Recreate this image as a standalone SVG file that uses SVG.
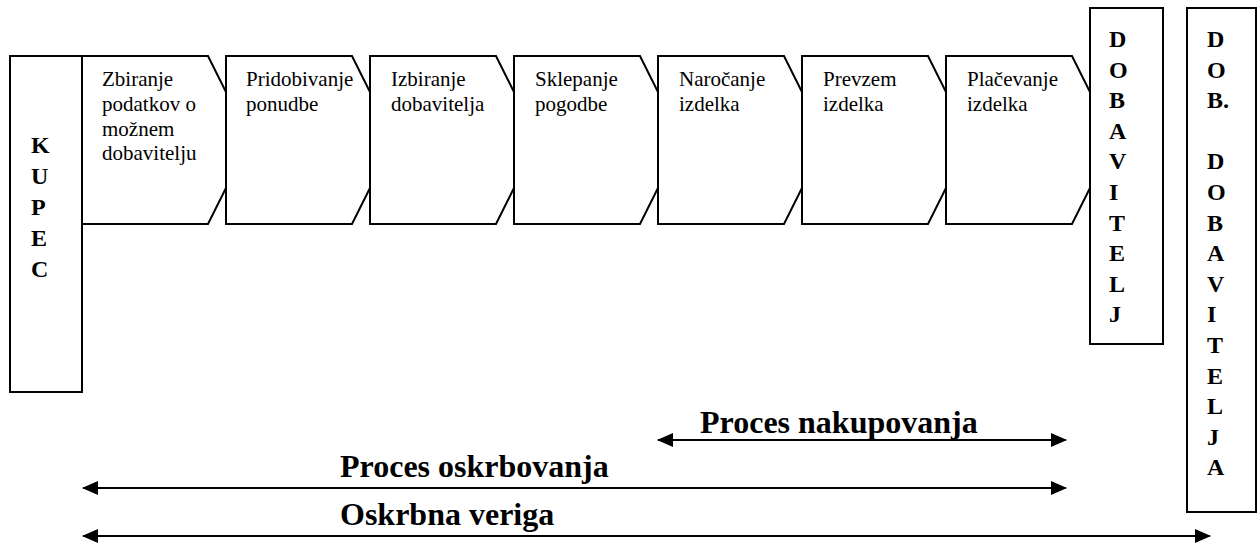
<svg xmlns="http://www.w3.org/2000/svg" width="1258" height="544" viewBox="0 0 1258 544">
  <style>
    .box { fill: #ffffff; stroke: #000000; stroke-width: 2; }
    .step { fill: #ffffff; stroke: #000000; stroke-width: 2; stroke-linejoin: miter; }
    .lbl { font-family: "Liberation Serif", "Times New Roman", serif; font-size: 21px; fill: #000000; }
    .vert { font-family: "Liberation Serif", "Times New Roman", serif; font-size: 24px; font-weight: bold; fill: #000000; }
    .span { font-family: "Liberation Serif", "Times New Roman", serif; font-size: 32px; font-weight: bold; fill: #000000; }
    .conn { stroke: #000000; stroke-width: 2; fill: none; }
  </style>
  <defs>
    <marker id="head" viewBox="0 0 16 14" refX="15" refY="7" markerWidth="16" markerHeight="14" markerUnits="userSpaceOnUse" orient="auto-start-reverse">
      <path d="M0,0 L16,7 L0,14 Z" fill="#000000"/>
    </marker>
  </defs>

  <rect width="1258" height="544" fill="#ffffff"/>

  <!-- process steps (later steps overlap the tip of the previous one) -->
  <g id="step-zbiranje">
    <path class="step" d="M82,56 H208 L250,140 L208,224 H82 Z"/>
    <text class="lbl" x="102" y="86">Zbiranje</text>
    <text class="lbl" x="102" y="111">podatkov o</text>
    <text class="lbl" x="102" y="135.5">možnem</text>
    <text class="lbl" x="102" y="160">dobavitelju</text>
  </g>
  <g id="step-pridobivanje">
    <path class="step" d="M226,56 H352 L394,140 L352,224 H226 Z"/>
    <text class="lbl" x="246" y="86">Pridobivanje</text>
    <text class="lbl" x="246" y="111">ponudbe</text>
  </g>
  <g id="step-izbiranje">
    <path class="step" d="M370,56 H496 L538,140 L496,224 H370 Z"/>
    <text class="lbl" x="391" y="86">Izbiranje</text>
    <text class="lbl" x="391" y="111">dobavitelja</text>
  </g>
  <g id="step-sklepanje">
    <path class="step" d="M514,56 H640 L682,140 L640,224 H514 Z"/>
    <text class="lbl" x="535" y="86">Sklepanje</text>
    <text class="lbl" x="535" y="111">pogodbe</text>
  </g>
  <g id="step-narocanje">
    <path class="step" d="M658,56 H784 L826,140 L784,224 H658 Z"/>
    <text class="lbl" x="679" y="86">Naročanje</text>
    <text class="lbl" x="679" y="111">izdelka</text>
  </g>
  <g id="step-prevzem">
    <path class="step" d="M802,56 H928 L970,140 L928,224 H802 Z"/>
    <text class="lbl" x="823" y="86">Prevzem</text>
    <text class="lbl" x="823" y="111">izdelka</text>
  </g>
  <g id="step-placevanje">
    <path class="step" d="M946,56 H1072 L1114,140 L1072,224 H946 Z"/>
    <text class="lbl" x="967" y="86">Plačevanje</text>
    <text class="lbl" x="967" y="111">izdelka</text>
  </g>

  <!-- buyer -->
  <g id="kupec">
    <rect class="box" x="10" y="56" width="72" height="336"/>
    <text class="vert" x="31" y="153">K</text>
    <text class="vert" x="31" y="184">U</text>
    <text class="vert" x="31" y="215">P</text>
    <text class="vert" x="31" y="246">E</text>
    <text class="vert" x="31" y="277">C</text>
  </g>

  <!-- supplier -->
  <g id="dobavitelj">
    <rect class="box" x="1090" y="8" width="73" height="336"/>
    <text class="vert" x="1109" y="47">D</text>
    <text class="vert" x="1109" y="77.6">O</text>
    <text class="vert" x="1109" y="108.2">B</text>
    <text class="vert" x="1109" y="138.8">A</text>
    <text class="vert" x="1109" y="169.4">V</text>
    <text class="vert" x="1109" y="200">I</text>
    <text class="vert" x="1109" y="230.6">T</text>
    <text class="vert" x="1109" y="261.2">E</text>
    <text class="vert" x="1109" y="291.8">L</text>
    <text class="vert" x="1109" y="322.4">J</text>
  </g>

  <!-- supplier's supplier -->
  <g id="dob-dobavitelja">
    <rect class="box" x="1187" y="8" width="69" height="504"/>
    <text class="vert" x="1207" y="47">D</text>
    <text class="vert" x="1207" y="77.6">O</text>
    <text class="vert" x="1207" y="108.2">B.</text>
    <text class="vert" x="1207" y="169.4">D</text>
    <text class="vert" x="1207" y="200">O</text>
    <text class="vert" x="1207" y="230.6">B</text>
    <text class="vert" x="1207" y="261.2">A</text>
    <text class="vert" x="1207" y="291.8">V</text>
    <text class="vert" x="1207" y="322.4">I</text>
    <text class="vert" x="1207" y="353">T</text>
    <text class="vert" x="1207" y="383.6">E</text>
    <text class="vert" x="1207" y="414.2">L</text>
    <text class="vert" x="1207" y="444.8">J</text>
    <text class="vert" x="1207" y="475.4">A</text>
  </g>

  <!-- span arrows -->
  <g id="connectors">
    <line class="conn" x1="658" y1="440" x2="1066" y2="440" marker-start="url(#head)" marker-end="url(#head)"/>
    <line class="conn" x1="83" y1="488" x2="1066" y2="488" marker-start="url(#head)" marker-end="url(#head)"/>
    <line class="conn" x1="83" y1="536" x2="1210" y2="536" marker-start="url(#head)" marker-end="url(#head)"/>
    <text class="span" x="700" y="433">Proces nakupovanja</text>
    <text class="span" x="340" y="477">Proces oskrbovanja</text>
    <text class="span" x="340" y="525">Oskrbna veriga</text>
  </g>
</svg>
